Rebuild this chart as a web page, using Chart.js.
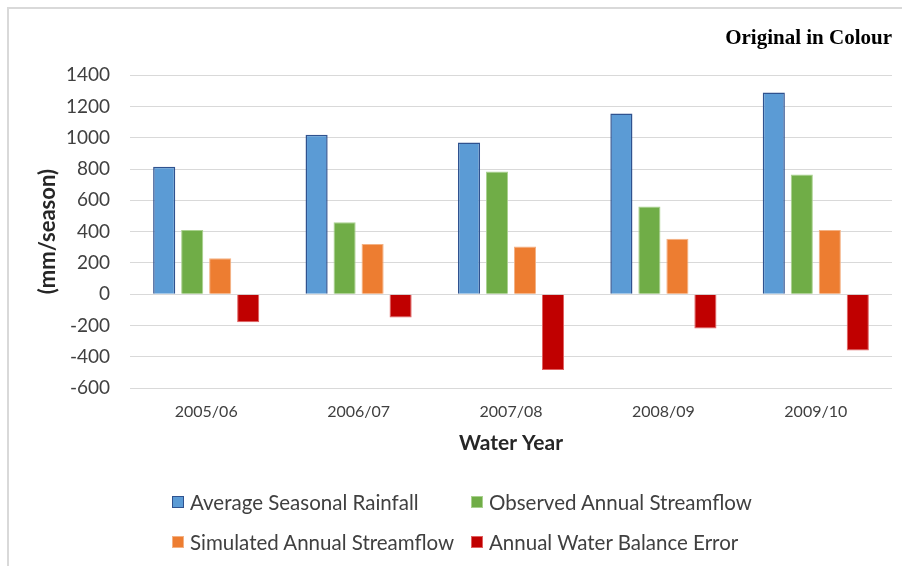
<!DOCTYPE html>
<html>
<head>
<meta charset="utf-8">
<script src="https://cdn.jsdelivr.net/npm/chart.js@4.4.1/dist/chart.umd.min.js"></script>
<style>
    body { margin: 0; background: #fff; }
    #wrap { position: relative; width: 902px; height: 566px; overflow: hidden; }
    #frame {
        position: absolute; left: 7px; top: 7px; width: 900px; height: 570px;
        border-left: 2px solid #d9d9d9; border-top: 2px solid #d9d9d9;
    }
    #chart { position: absolute; left: 0; top: 0; }
    #legend {
        position: absolute; left: 172px; top: 489px;
        display: grid; grid-template-columns: 299px 300px; row-gap: 14px;
        font-family: Lato, sans-serif; font-size: 20.5px; color: #404040;
    }
    .item { display: flex; align-items: center; height: 26px; white-space: nowrap; }
    .box { width: 12px; height: 12px; box-sizing: border-box; margin-right: 6px; }
</style>
</head>
<body>
<div id="wrap">
    <div id="frame"></div>
    <canvas id="chart" width="902" height="566"></canvas>
    <div id="legend"></div>
</div>
<script>
// data
const years = ['2005/06', '2006/07', '2007/08', '2008/09', '2009/10'];
const rainfall = [815, 1020, 970, 1155, 1290];
const observedFlow = [410, 460, 785, 560, 765];
const simulatedFlow = [230, 320, 305, 355, 410];
const balanceError = [-180, -150, -485, -220, -360];
const yTicks = [1400, 1200, 1000, 800, 600, 400, 200, 0, -200, -400, -600];

const seriesNames = [
    'Average Seasonal Rainfall',
    'Observed Annual Streamflow',
    'Simulated Annual Streamflow',
    'Annual Water Balance Error'
];
const fills = ['#5b9bd5', '#70ad47', '#ed7d31', '#c00000'];
const edges = ['#2f528f', '#a9d18e', '#f4b183', '#e06060'];
const seriesData = [rainfall, observedFlow, simulatedFlow, balanceError];

const datasets = seriesData.map((values, i) => ({
    label: seriesNames[i],
    data: values,
    backgroundColor: fills[i],
    borderColor: edges[i],
    borderWidth: i === 0 ? 1.5 : 1,
    categoryPercentage: 0.735,
    barPercentage: 0.79
}));

const ctx = document.getElementById('chart').getContext('2d');
const chart = new Chart(ctx, {
    type: 'bar',
    data: { labels: years, datasets: datasets },
    options: {
        responsive: false,
        animation: false,
        layout: { padding: { left: 0, right: 10, top: 0, bottom: 110 } },
        plugins: {
            legend: { display: false },
            tooltip: { enabled: false },
            title: {
                display: true,
                text: 'Original in Colour',
                align: 'end',
                color: '#000',
                font: { family: '"Liberation Serif", serif', size: 21, weight: 'bold' },
                padding: { top: 26, bottom: 24 }
            }
        },
        scales: {
            x: {
                grid: { display: false, drawTicks: false },
                border: { display: false },
                ticks: { color: '#404040', padding: 14, font: { family: 'Lato', size: 16 } },
                title: {
                    display: true,
                    text: 'Water Year',
                    color: '#262626',
                    font: { family: 'Lato', size: 21, weight: 'bold' },
                    padding: { top: 4, bottom: 0 }
                },
                afterFit: axis => { axis.height = 68; }
            },
            y: {
                min: -600,
                max: 1400,
                afterBuildTicks: axis => { axis.ticks = yTicks.map(v => ({ value: v })); },
                grid: { color: '#d9d9d9', lineWidth: 1, drawTicks: false },
                border: { display: false },
                ticks: {
                    color: '#404040',
                    padding: 20,
                    font: { family: 'Lato', size: 19 },
                    callback: value => String(value)
                },
                title: {
                    display: true,
                    text: '(mm/season)',
                    color: '#262626',
                    font: { family: 'Lato', size: 22, weight: 'bold' },
                    padding: { top: 35, bottom: 0 }
                },
                afterFit: axis => { axis.width = 130; }
            }
        }
    }
});

// two-column legend like the original
const legend = document.getElementById('legend');
chart.data.datasets.forEach(ds => {
    const item = document.createElement('div');
    item.className = 'item';
    const box = document.createElement('span');
    box.className = 'box';
    box.style.background = ds.backgroundColor;
    box.style.border = '1px solid ' + ds.borderColor;
    item.appendChild(box);
    item.appendChild(document.createTextNode(ds.label));
    legend.appendChild(item);
});
</script>
</body>
</html>
